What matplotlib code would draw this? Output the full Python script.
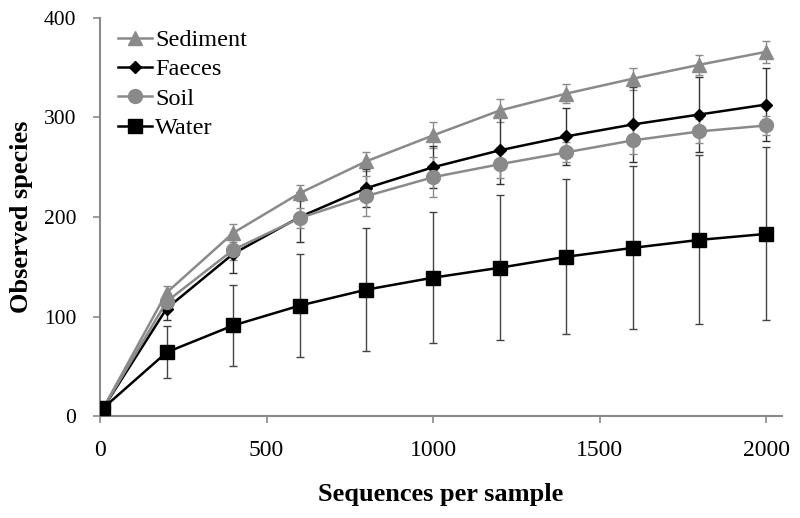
import matplotlib
matplotlib.use("Agg")
import matplotlib.pyplot as plt

x = [10, 200, 400, 600, 800, 1000, 1200, 1400, 1600, 1800, 2000]
sediment = [8, 124, 184, 224, 256, 282, 307, 324, 339, 353, 366]
sediment_err = [1, 7, 9, 8, 9.5, 13, 12, 9.5, 11, 10, 11]
faeces = [8, 108, 163, 200, 229, 250, 267, 281, 293, 303, 313]
faeces_err = [1, 12, 19, 25, 19, 21, 34, 29, 38, 38, 37]
soil = [8, 115, 167, 199, 221, 240, 253, 265, 277, 286, 292]
soil_err = [1, 9, 10, 10, 20, 20, 14, 10, 14, 12, 10]
water = [8, 64, 91, 111, 127, 139, 149, 160, 169, 177, 183]
water_err = [1, 26, 41, 52, 62, 66, 73, 78, 82, 85, 87]

series_names = ["Sediment", "Faeces", "Soil", "Water"]
xticks = [0, 500, 1000, 1500, 2000]
yticks = [0, 100, 200, 300, 400]

plt.rcParams['font.family'] = ['Liberation Serif', 'DejaVu Serif']

fig = plt.figure(figsize=(8.0, 5.18), dpi=100)
ax = fig.add_axes([100/800, 102/518, 682/800, 398/518])

GRAY = '#8a8a8a'
specs = [
    (sediment, sediment_err, GRAY, '^', 10, GRAY),
    (faeces, faeces_err, 'black', 'D', 6, '#333333'),
    (soil, soil_err, GRAY, 'o', 10, GRAY),
    (water, water_err, 'black', 's', 9.5, '#444444'),
]

for ys, err, col, mk, ms, ecol in specs:
    ax.errorbar(x, ys, yerr=err, fmt='none', ecolor=ecol, elinewidth=1.0,
                capsize=3, capthick=1.0, zorder=2)

handles = []
for (ys, err, col, mk, ms, ecol), name in zip(specs, series_names):
    h, = ax.plot(x, ys, color=col, marker=mk, markersize=ms, linewidth=1.8,
                 markeredgecolor=col, label=name, zorder=3)
    handles.append(h)

ax.set_xlim(0, 2048)
ax.set_ylim(0, 400)
ax.set_xticks(xticks)
ax.set_yticks(yticks)
ax.tick_params(axis='x', labelsize=17, direction='out', length=5, width=1.2, color=GRAY, pad=12)
ax.tick_params(axis='y', labelsize=15.5, direction='out', length=5, width=1.2, color=GRAY, pad=12)

for s in ['top', 'right']:
    ax.spines[s].set_visible(False)
for s in ['left', 'bottom']:
    ax.spines[s].set_color(GRAY)
    ax.spines[s].set_linewidth(1.5)

ax.set_xlabel("Sequences per sample", fontsize=19, fontweight='bold', labelpad=16)
ax.set_ylabel("Observed species", fontsize=19, fontweight='bold', labelpad=8)

leg = ax.legend(handles=handles, loc='upper left', bbox_to_anchor=(0.026, 0.972),
                frameon=False, fontsize=17.5, borderpad=0, borderaxespad=0,
                handlelength=1.4, handletextpad=0.15, labelspacing=0.3)

fig.savefig("out.png", dpi=100)
